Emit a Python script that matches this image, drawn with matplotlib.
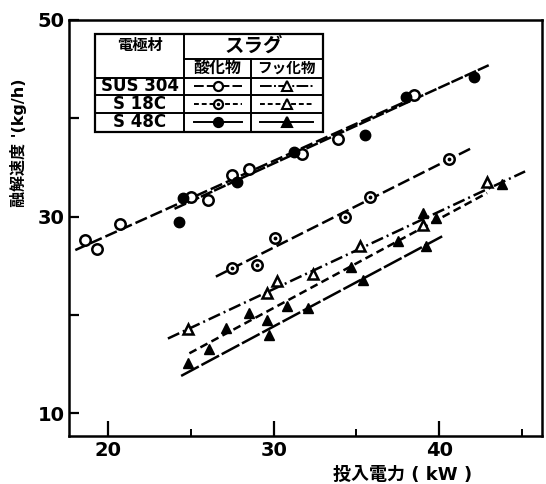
import matplotlib
matplotlib.use('Agg')
import matplotlib.pyplot as plt

plt.rcParams['font.family'] = ['DejaVu Sans', 'Noto Sans CJK JP']

# 酸化物スラグ (oxide slag)
sus_ox_x = [18.6, 19.3, 20.7, 25.0, 26.0, 27.5, 28.5, 31.7, 33.9, 38.5]
sus_ox_y = [27.6, 26.7, 29.3, 32.0, 31.7, 34.2, 34.8, 36.4, 37.9, 42.4]
s18_ox_x = [27.5, 29.0, 30.1, 34.3, 35.8, 40.6]
s18_ox_y = [24.8, 25.1, 27.8, 30.0, 32.0, 35.9]
s48_ox_x = [24.3, 24.5, 27.8, 31.2, 35.5, 38.0, 42.1]
s48_ox_y = [29.5, 31.9, 33.5, 36.6, 38.3, 42.2, 44.2]

# フッ化物スラグ (fluoride slag)
sus_fl_x = [24.8, 29.6, 30.2, 32.4, 35.2, 39.0, 42.9]
sus_fl_y = [18.6, 22.2, 23.5, 24.2, 27.0, 29.2, 33.5]
s18_fl_x = [26.1, 27.1, 28.5, 29.6, 30.8, 34.7, 37.5, 39.0, 39.8, 43.8]
s18_fl_y = [16.5, 18.7, 20.2, 19.5, 20.9, 24.9, 27.5, 30.4, 29.9, 33.3]
s48_fl_x = [24.8, 29.7, 32.1, 35.4, 39.2]
s48_fl_y = [15.1, 18.0, 20.7, 23.6, 27.0]

# fitted lines (x ends, y ends)
sus_ox_line = ([18.0, 38.5], [26.6, 42.1])
s48_ox_line = ([24.0, 43.0], [30.8, 45.4])
s18_ox_line = ([26.5, 42.0], [23.9, 37.0])
sus_fl_line = ([23.6, 45.2], [17.6, 34.6])
s18_fl_line = ([24.9, 42.9], [16.1, 32.4])
s48_fl_line = ([24.4, 40.3], [13.8, 28.1])

fig = plt.figure(figsize=(5.46, 4.84), dpi=100)
ax = fig.add_axes([0.1264, 0.0998, 0.8656, 0.8589])

lw = 1.8
k = 'black'
ax.plot(*sus_ox_line, color=k, lw=lw, dashes=(5, 1.6))
ax.plot(*s48_ox_line, color=k, lw=lw, dashes=(5, 0.8))
ax.plot(*s18_ox_line, color=k, lw=lw, dashes=(5, 1.8))
ax.plot(*sus_fl_line, color=k, lw=lw, dashes=(5, 1.6, 0.8, 1.6))
ax.plot(*s18_fl_line, color=k, lw=lw, dashes=(3.2, 1.8))
ax.plot(*s48_fl_line, color=k, lw=lw, dashes=(8, 1.2))

ms = 7.5
ax.plot(sus_ox_x, sus_ox_y, 'o', ms=ms, mfc='white', mec=k, mew=1.8, ls='none')
ax.plot(s18_ox_x, s18_ox_y, 'o', ms=ms, mfc='white', mec=k, mew=1.8, ls='none')
ax.plot(s18_ox_x, s18_ox_y, '.', ms=3.5, color=k, ls='none')
ax.plot(s48_ox_x, s48_ox_y, 'o', ms=ms, color=k, ls='none')
ax.plot(sus_fl_x, sus_fl_y, '^', ms=7, mfc='white', mec=k, mew=1.8, ls='none')
ax.plot(s18_fl_x, s18_fl_y, '^', ms=7.5, color=k, ls='none')
ax.plot(s48_fl_x, s48_fl_y, '^', ms=7.5, color=k, ls='none')

ax.set_xlim(17.62, 46.2)
ax.set_ylim(7.72, 50)
ax.set_xticks([20, 30, 40])
ax.set_xticks([25, 35, 45], minor=True)
ax.set_yticks([10, 20, 30, 40, 50])
ax.set_yticklabels(['10', '', '30', '', '50'])
ax.tick_params(axis='x', which='major', direction='in', length=11, width=1.6,
               labelsize=14, pad=4)
ax.tick_params(axis='x', which='minor', direction='in', length=5, width=1.4)
ax.tick_params(axis='y', which='major', direction='in', length=7, width=1.6,
               labelsize=14, pad=3)
for lab in ax.get_xticklabels() + ax.get_yticklabels():
    lab.set_fontweight('bold')
for s in ax.spines.values():
    s.set_linewidth(1.8)

ax.set_ylabel("融解速度 '(kg/h)", fontsize=11.5, fontweight='bold')
ax.yaxis.set_label_coords(-0.088, 0.705)
ax.text(0.705, -0.095, '投入電力 ( kW )', transform=ax.transAxes, ha='center',
        va='center', fontsize=13, fontweight='bold')

# legend table
T = ax.transAxes
def fx(px):
    return (px - 69) / 472.7
def fy(py):
    return (435.7 - py) / 415.7

L, R, Tp, B = fx(95), fx(322.7), fy(34), fy(131.7)
c1, c2 = fx(184.3), fx(251)
ax.add_patch(plt.Rectangle((L, B), R - L, Tp - B, transform=T, fc='white', ec=k,
                           lw=1.6, zorder=5))
seg = dict(transform=T, color=k, lw=1.4, zorder=6, clip_on=False)
ax.plot([c1, c1], [B, Tp], **seg)
ax.plot([c2, c2], [B, fy(59.3)], **seg)
ax.plot([c1, R], [fy(59.3), fy(59.3)], **seg)
for yy in [77.7, 95, 113.3]:
    ax.plot([L, R], [fy(yy), fy(yy)], **seg)

txt = dict(transform=T, ha='center', va='center', fontweight='bold', zorder=7, color=k)
ax.text((L + c1) / 2, fy(45), '電極材', fontsize=11, **txt)
ax.text((c1 + R) / 2, fy(46), 'スラグ', fontsize=14, style='italic', **txt)
ax.text((c1 + c2) / 2, fy(68.5), '酸化物', fontsize=11.5, **txt)
ax.text((c2 + R) / 2, fy(68.5), 'フッ化物', fontsize=10.5, **txt)
rows = ['SUS 304', 'S 18C', 'S 48C']
row_y = [86.3, 104.2, 122.5]
for name, yy in zip(rows, row_y):
    ax.text((L + c1) / 2, fy(yy), name, fontsize=12, **txt)

samples = [
    (fy(86.3), (5, 1.6), 'white', False, (6, 1.2, 1, 1.2)),
    (fy(104.2), (2.5, 1.5), 'white', True, (2.5, 1.5)),
    (fy(122.5), (None), k, False, None),
]
for yy, d1, fc, dot, d2 in samples:
    ox = dict(transform=T, color=k, lw=1.4, zorder=7)
    if d1:
        ax.plot([c1 + 0.02, c2 - 0.02], [yy, yy], dashes=d1, **ox)
    else:
        ax.plot([c1 + 0.02, c2 - 0.02], [yy, yy], **ox)
    ax.plot([(c1 + c2) / 2], [yy], 'o', ms=6.5, mfc=fc, mec=k, mew=1.6,
            transform=T, zorder=8)
    if dot:
        ax.plot([(c1 + c2) / 2], [yy], '.', ms=3, color=k, transform=T, zorder=9)
    if d2:
        ax.plot([c2 + 0.02, R - 0.02], [yy, yy], dashes=d2, **ox)
    else:
        ax.plot([c2 + 0.02, R - 0.02], [yy, yy], **ox)
    tfc = 'white' if fc == 'white' else k
    ax.plot([(c2 + R) / 2], [yy], '^', ms=6.5, mfc=tfc, mec=k, mew=1.5,
            transform=T, zorder=8)

fig.savefig('out.png', dpi=100)
